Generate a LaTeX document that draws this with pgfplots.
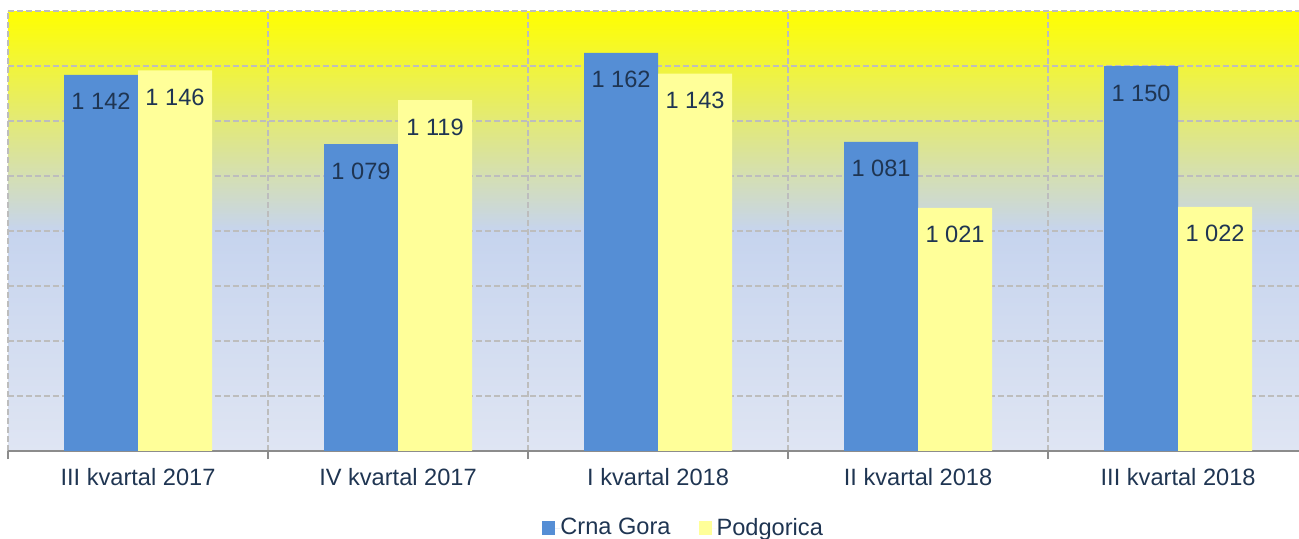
\documentclass[border=0pt]{standalone}
\usepackage{pgfplots}
\pgfplotsset{compat=1.18}
\usepackage{fontspec}
\setmainfont{Liberation Sans}
\definecolor{cgblue}{HTML}{558ED5}
\definecolor{pgyellow}{HTML}{FFFF99}
\definecolor{txt}{HTML}{1F3552}
\definecolor{gridc}{HTML}{BDBDBD}
\definecolor{axc}{HTML}{8C8C8C}
\definecolor{gtop}{HTML}{FFFF00}
\definecolor{gmid}{HTML}{C6D4EE}
\definecolor{gbot}{HTML}{DFE5F3}
\pgfdeclareverticalshading{bggrad}{100bp}{color(0bp)=(gbot); color(25bp)=(gbot); color(50bp)=(gmid); color(75bp)=(gtop); color(100bp)=(gtop)}
\begin{document}
\begin{tikzpicture}[font=\fontsize{11.85}{14}\selectfont]
\useasboundingbox (0,0) rectangle (649.5bp,269.5bp);
\begin{axis}[
  at={(4bp,44bp)}, anchor=south west,
  scale only axis, width=645.5bp, height=220bp,
  xmin=-0.5, xmax=4.465, ymin=800, ymax=1200,
  ybar=0pt, bar width=37bp,
  xtick={0,...,4},
  xticklabels={III kvartal 2017, IV kvartal 2017, I kvartal 2018, II kvartal 2018, III kvartal 2018},
  minor xtick={-0.5,0.5,1.5,2.5,3.5},
  ytick={800,850,...,1200}, yticklabels={},
  ymajorgrids, xminorgrids,
  grid style={gridc, dash pattern=on 3bp off 1.5bp, line width=0.6bp},
  major x tick style={draw=none}, ytick style={draw=none},
  tick align=outside, minor tick length=4bp,
  minor x tick style={axc, line width=0.8bp},
  axis x line*=bottom, axis y line*=left,
  y axis line style={draw=none},
  x axis line style={axc, line width=1bp, -},
  axis background/.style={shading=bggrad},
  xticklabel style={anchor=base, yshift=-13bp, text=txt},
  nodes near coords,
  nodes near coords style={anchor=base, yshift=-17.5bp, text=txt,
    /pgf/number format/1000 sep={\ }, /pgf/number format/assume math mode=true},
  legend style={at={(axis description cs:0.4136,-0.175)}, anchor=west, draw=none, fill=none,
    inner sep=0pt, legend columns=2,
    /tikz/every even column/.append style={column sep=14bp},
    nodes={inner sep=0pt, text=txt}},
  legend cell align=left,
]
\addplot[fill=cgblue, draw=none,
  legend image code/.code={\fill[cgblue] (0bp,-3.25bp) rectangle (6.5bp,3.25bp); \path (0bp,0bp) -- (9bp,0bp);}]
  coordinates {(0,1142) (1,1079) (2,1162) (3,1081) (4,1150)};
\addplot[fill=pgyellow, draw=none,
  legend image code/.code={\fill[pgyellow] (0bp,-3.25bp) rectangle (6.5bp,3.25bp); \path (0bp,0bp) -- (9bp,0bp);}]
  coordinates {(0,1146) (1,1119) (2,1143) (3,1021) (4,1022)};
\legend{Crna Gora, Podgorica}
\end{axis}
\end{tikzpicture}
\end{document}
